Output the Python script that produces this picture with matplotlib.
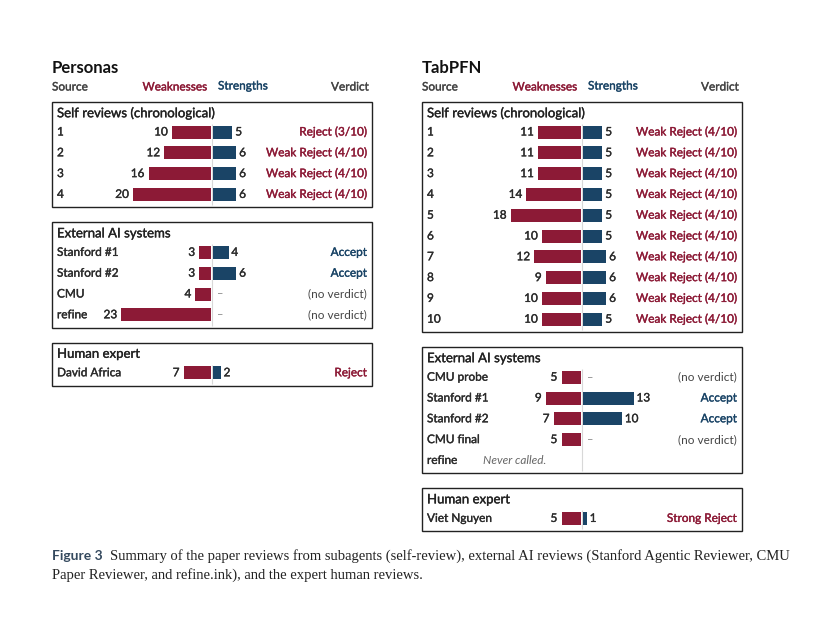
import matplotlib
matplotlib.use("Agg")
import matplotlib.pyplot as plt
import matplotlib.patheffects as pe
from matplotlib.patches import Rectangle

W, H = 820, 620
CRIMSON = "#8c1a36"
NAVY = "#1a4466"
INK = "#2b2b2b"
GRAY = "#444444"
SANS = ["Lato", "DejaVu Sans"]

# ---- data ----
personas_self_labels = ["1", "2", "3", "4"]
personas_self_weak = [10, 12, 16, 20]
personas_self_strong = [5, 6, 6, 6]
personas_self_verdict = ["Reject (3/10)", "Weak Reject (4/10)", "Weak Reject (4/10)", "Weak Reject (4/10)"]

personas_ext_labels = ["Stanford #1", "Stanford #2", "CMU", "refine"]
personas_ext_weak = [3, 3, 4, 23]
personas_ext_strong = [4, 6, None, None]
personas_ext_verdict = ["Accept", "Accept", "(no verdict)", "(no verdict)"]

personas_human_labels = ["David Africa"]
personas_human_weak = [7]
personas_human_strong = [2]
personas_human_verdict = ["Reject"]

tabpfn_self_labels = [str(i) for i in range(1, 11)]
tabpfn_self_weak = [11, 11, 11, 14, 18, 10, 12, 9, 10, 10]
tabpfn_self_strong = [5, 5, 5, 5, 5, 5, 6, 6, 6, 5]
tabpfn_self_verdict = ["Weak Reject (4/10)"] * 10

tabpfn_ext_labels = ["CMU probe", "Stanford #1", "Stanford #2", "CMU final", "refine"]
tabpfn_ext_weak = [5, 9, 7, 5, None]
tabpfn_ext_strong = [None, 13, 10, None, None]
tabpfn_ext_verdict = ["(no verdict)", "Accept", "Accept", "(no verdict)", ""]

tabpfn_human_labels = ["Viet Nguyen"]
tabpfn_human_weak = [5]
tabpfn_human_strong = [1]
tabpfn_human_verdict = ["Strong Reject"]

caption_bold = "Figure 3"
caption_line1 = ("Summary of the paper reviews from subagents (self-review), external AI reviews "
                 "(Stanford Agentic Reviewer, CMU")
caption_line2 = "Paper Reviewer, and refine.ink), and the expert human reviews."

# ---- layout (pixels) ----
PX_PER_UNIT = 3.9
ROW_GAP = 20.8


def heavy(color):
    # Lato has no medium weight here; thicken the regular glyphs a little
    return [pe.Stroke(linewidth=0.25, foreground=color), pe.Normal()]


def t(fig, x, y, s, thick=True, **kw):
    kw.setdefault("family", SANS)
    kw.setdefault("va", "center")
    kw.setdefault("color", INK)
    if thick:
        kw["path_effects"] = heavy(kw["color"])
    fig.text(x / W, 1 - y / H, s, **kw)


def verdict_color(v):
    if "Reject" in v:
        return CRIMSON
    if "Accept" in v:
        return NAVY
    return GRAY


def draw_panel(fig, x0, name, sections):
    x1 = x0 + 320
    center = x0 + 160
    ax = fig.add_axes([x0 / W, 0, 320 / W, 1])
    half = 160 / PX_PER_UNIT
    ax.set_xlim(-half, half)
    ax.set_ylim(H, 0)
    ax.axis("off")

    t(fig, x0, 68, name, thick=False, fontsize=12, weight="bold", color="#111111")
    t(fig, x0, 87, "Source", fontsize=8.5, color=GRAY)
    t(fig, center - 5, 87, "Weaknesses", fontsize=8.5, color=CRIMSON, ha="right")
    t(fig, center + 6, 86, "Strengths", fontsize=8.5, color=NAVY, ha="left")
    t(fig, x1 - 3, 87, "Verdict", fontsize=8.5, color=GRAY, ha="right")

    top = 102
    for title, labels, weak, strong, verdicts in sections:
        rows = [top + 30 + i * ROW_GAP for i in range(len(labels))]
        bottom = rows[-1] + 13
        fig.patches.append(Rectangle((x0 / W, 1 - bottom / H), 320 / W, (bottom - top) / H,
                                     transform=fig.transFigure, fill=False,
                                     edgecolor="#222222", lw=1.0))
        t(fig, x0 + 5, top + 11, title, fontsize=9.5, color="#222222")
        ax.vlines(0, rows[0] - 8, bottom - 2, color="#d8d8d8", lw=0.8, zorder=1)
        for y, lab, w, s, v in zip(rows, labels, weak, strong, verdicts):
            t(fig, x0 + 5, y, lab, fontsize=8.5)
            if w is not None:
                ax.barh(y, -w, height=13, left=-0.25, color=CRIMSON, zorder=2)
                ax.annotate(str(w), (-w - 0.25, y), xytext=(-3, 0), textcoords="offset points",
                            ha="right", va="center", fontsize=8.5, family=SANS, color=INK,
                            path_effects=heavy(INK))
            elif lab == "refine":
                t(fig, x0 + 61, y, "Never called.", thick=False, fontsize=8.5, style="italic",
                  color="#666666")
            if s is not None:
                ax.barh(y, s, height=13, left=0.25, color=NAVY, zorder=2)
                ax.annotate(str(s), (s + 0.25, y), xytext=(2, 0), textcoords="offset points",
                            ha="left", va="center", fontsize=8.5, family=SANS, color=INK,
                            path_effects=heavy(INK))
            elif w is not None:
                ax.annotate("\u2013", (0.25, y), xytext=(3, 0), textcoords="offset points",
                            ha="left", va="center", fontsize=8, family=SANS, color="#888888")
            if v:
                vc = verdict_color(v)
                t(fig, x1 - 5, y, v, thick=(vc != GRAY), fontsize=8.5, ha="right", color=vc)
        top = bottom + 15


fig = plt.figure(figsize=(W / 100, H / 100), dpi=100)

draw_panel(fig, 52, "Personas", [
    ("Self reviews (chronological)", personas_self_labels, personas_self_weak,
     personas_self_strong, personas_self_verdict),
    ("External AI systems", personas_ext_labels, personas_ext_weak,
     personas_ext_strong, personas_ext_verdict),
    ("Human expert", personas_human_labels, personas_human_weak,
     personas_human_strong, personas_human_verdict),
])
draw_panel(fig, 422, "TabPFN", [
    ("Self reviews (chronological)", tabpfn_self_labels, tabpfn_self_weak,
     tabpfn_self_strong, tabpfn_self_verdict),
    ("External AI systems", tabpfn_ext_labels, tabpfn_ext_weak,
     tabpfn_ext_strong, tabpfn_ext_verdict),
    ("Human expert", tabpfn_human_labels, tabpfn_human_weak,
     tabpfn_human_strong, tabpfn_human_verdict),
])

SERIF = ["Liberation Serif", "DejaVu Serif"]
t(fig, 52, 556, caption_bold, thick=False, fontsize=10, weight="bold", color="#34495e")
t(fig, 110, 556, caption_line1, thick=False, fontsize=10.5, family=SERIF, color="#222222")
t(fig, 52, 575, caption_line2, thick=False, fontsize=10.5, family=SERIF, color="#222222")

fig.savefig("out.png", dpi=100)
